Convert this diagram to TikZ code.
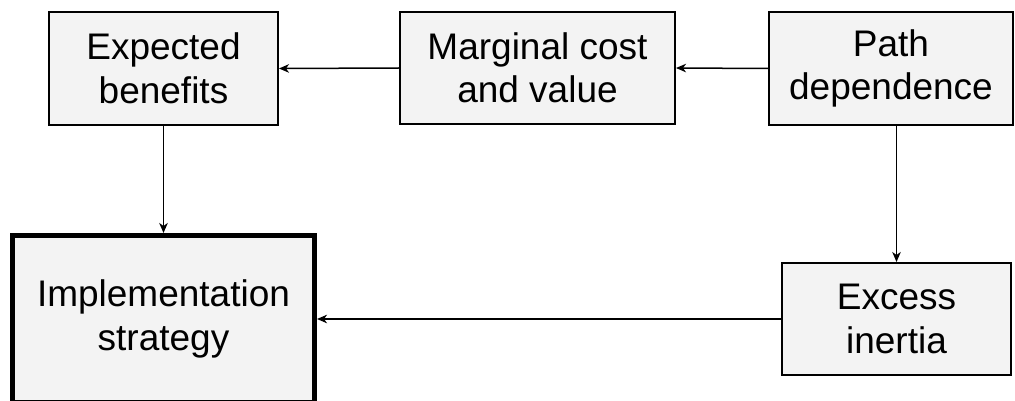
\documentclass[tikz,border=0pt]{standalone}
\usepackage{fontspec}
\setmainfont{Liberation Sans}
\usetikzlibrary{arrows.meta}
\definecolor{boxgray}{HTML}{F3F3F3}
\begin{document}
\begin{tikzpicture}[x=1pt,y=-1pt,
  box/.style={draw=black, fill=boxgray, line width=1.6pt, align=center, inner sep=0pt,
    font=\fontsize{37}{43.5}\selectfont},
  thickbox/.style={box, line width=5pt},
  conn/.style={line width=1.5pt, -{Stealth[length=10pt,width=8.5pt,inset=3pt]}}]
\useasboundingbox (0,0) rectangle (1015,401);
\clip (0,0) rectangle (1015,401);
\node[box, minimum width=229.4pt, minimum height=113.4pt] (eb) at (163.5,68.5) {Expected\\benefits};
\node[box, minimum width=275.4pt, minimum height=112.4pt] (mc) at (537.5,68) {Marginal cost\\and value};
\node[box, minimum width=244.4pt, minimum height=113.4pt] (pd) at (891,68.5) {Path\\dependence};
\node[thickbox, minimum width=302pt, minimum height=167pt] (is) at (163.5,319) {Implementation\\strategy};
\node[box, minimum width=229.4pt, minimum height=112.4pt] (ei) at (896.5,319) {Excess\\inertia};
\draw[conn] (pd.west) -- (mc.east);
\draw[conn] (mc.west) -- (eb.east);
\draw[conn] (eb.south) -- (is.north);
\draw[conn] (pd.south -| ei.north) -- (ei.north);
\draw[conn] (ei.west) -- (is.east);
\end{tikzpicture}
\end{document}
